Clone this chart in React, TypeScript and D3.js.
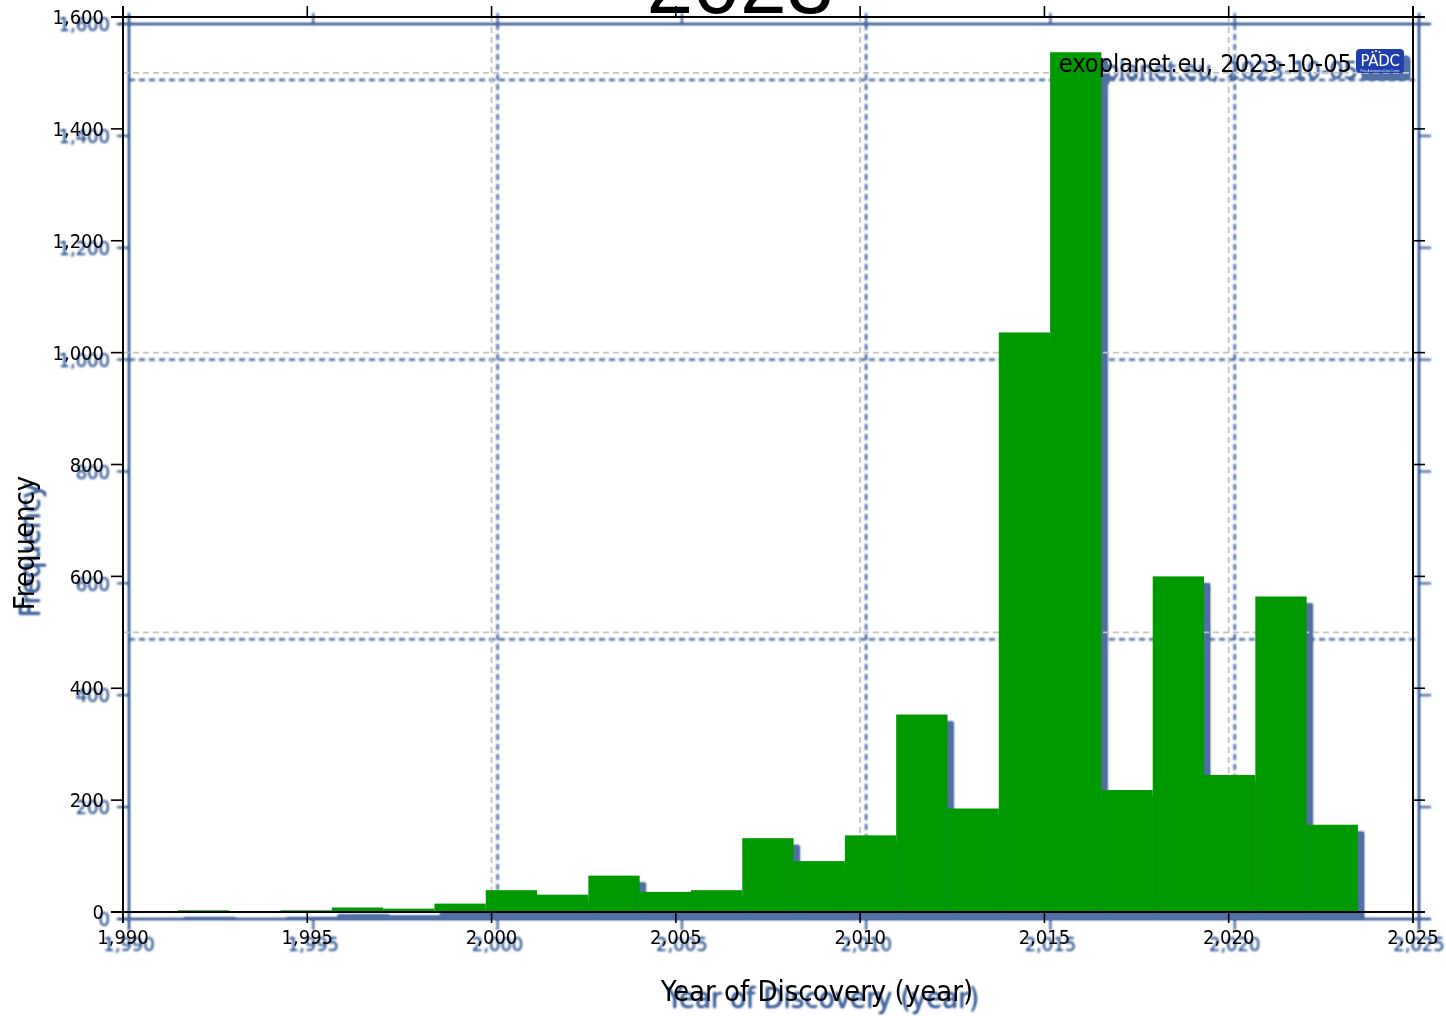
import React from "react";
import * as d3 from "d3";

// ---- data ----
const binStart = 1991.49;
const binWidth = 1.392;
const binCounts = [3, 0, 3, 8, 6, 15, 39, 31, 65, 36, 39, 132, 91, 137, 353, 185, 1036, 1537, 218, 600, 245, 564, 156];
const xTicks = [1990, 1995, 2000, 2005, 2010, 2015, 2020, 2025];
const yTicks = [0, 200, 400, 600, 800, 1000, 1200, 1400, 1600];
const xGrid = [1990, 2000, 2010, 2020];
const yGrid = [0, 500, 1000, 1500];
const titleText = "2023";
const xTitle = "Year of Discovery (year)";
const yTitle = "Frequency";
const sourceText = "exoplanet.eu, 2023-10-05";

const W = 1446;
const H = 1016;
const L = 123, R = 1413, T = 17, B = 912;

export default function App() {
  const x = d3.scaleLinear().domain([1990, 2025]).range([L, R]);
  const y = d3.scaleLinear().domain([0, 1600]).range([B, T]);
  const fmt = d3.format(",");
  const tickFont = "'DejaVu Sans Condensed', 'DejaVu Sans', sans-serif";
  const bins = binCounts.map((v, i) => ({ x0: binStart + i * binWidth, x1: binStart + (i + 1) * binWidth, v }));

  return (
    <svg width={W} height={H} style={{ position: "absolute", left: 0, top: 0, background: "#fff" }}>
      <defs>
        <filter id="shadow" x="-5%" y="-5%" width="110%" height="110%" colorInterpolationFilters="sRGB">
          <feGaussianBlur in="SourceAlpha" stdDeviation="1.1" result="b" />
          <feComponentTransfer in="b" result="ba">
            <feFuncA type="linear" slope="1.5" intercept="0" />
          </feComponentTransfer>
          <feOffset in="ba" dx="6" dy="7" result="o" />
          <feFlood floodColor="#3d619c" floodOpacity="0.9" result="c" />
          <feComposite in="c" in2="o" operator="in" result="s" />
          <feMerge>
            <feMergeNode in="s" />
            <feMergeNode in="SourceGraphic" />
          </feMerge>
        </filter>
      </defs>
      <g filter="url(#shadow)">
        {/* gridlines */}
        {yGrid.map((g) => (
          <line key={"yg" + g} x1={L} x2={R} y1={y(g)} y2={y(g)} stroke="#c4c4c4" strokeWidth={1.8} strokeDasharray="6,4" />
        ))}
        {xGrid.map((g) => (
          <line key={"xg" + g} x1={x(g)} x2={x(g)} y1={T} y2={B} stroke="#c4c4c4" strokeWidth={1.8} strokeDasharray="6,4" />
        ))}
        {/* bars */}
        {bins.filter((b) => b.v > 0).map((b, i) => (
          <rect key={"b" + i} x={x(b.x0)} y={y(b.v)} width={x(b.x1) - x(b.x0)} height={y(0) - y(b.v)} fill="#009900" />
        ))}
        {/* axes frame */}
        <line x1={L - 12} x2={R + 12} y1={B} y2={B} stroke="#000" strokeWidth={2} />
        <line x1={L - 12} x2={R + 12} y1={T} y2={T} stroke="#000" strokeWidth={2} />
        <line x1={L} x2={L} y1={T - 11} y2={B + 11} stroke="#000" strokeWidth={2} />
        <line x1={R} x2={R} y1={T - 11} y2={B + 11} stroke="#000" strokeWidth={2} />
        {yTicks.map((t) => (
          <g key={"yt" + t}>
            <line x1={L - 12} x2={L} y1={y(t)} y2={y(t)} stroke="#000" strokeWidth={1.6} />
            <line x1={R} x2={R + 12} y1={y(t)} y2={y(t)} stroke="#000" strokeWidth={1.6} />
            <text x={104} y={y(t)} dy="0.36em" textAnchor="end" fontFamily={tickFont} fontStretch="condensed" fontSize={20} fill="#000">
              {fmt(t)}
            </text>
          </g>
        ))}
        {xTicks.map((t) => (
          <g key={"xt" + t}>
            <line x1={x(t)} x2={x(t)} y1={B} y2={B + 11} stroke="#000" strokeWidth={1.6} />
            <line x1={x(t)} x2={x(t)} y1={T - 11} y2={T} stroke="#000" strokeWidth={1.6} />
            <text x={x(t)} y={944} textAnchor="middle" fontFamily={tickFont} fontStretch="condensed" fontSize={20} fill="#000">
              {fmt(t)}
            </text>
          </g>
        ))}
        {/* axis titles */}
        <text x={817} y={1001} textAnchor="middle" fontFamily={tickFont} fontStretch="condensed" fontSize={29} fill="#000">
          {xTitle}
        </text>
        <text transform="translate(34,543) rotate(-90)" textAnchor="middle" fontFamily={tickFont} fontStretch="condensed" fontSize={29} fill="#000">
          {yTitle}
        </text>
        {/* source annotation */}
        <text x={1352} y={72} textAnchor="end" fontFamily={tickFont} fontStretch="condensed" fontSize={25.2} fill="#000">
          {sourceText}
        </text>
        {/* PADC logo */}
        <g>
          <rect x={1356} y={49} width={48} height={24} rx={4} fill="#1f3fae" />
          <text x={1380} y={65.5} textAnchor="middle" fontFamily="'DejaVu Sans', sans-serif" fontSize={15} letterSpacing={-0.3} fill="#fff">
            PADC
          </text>
          <circle cx={1372.5} cy={52} r={1} fill="#fff" />
          <circle cx={1376} cy={51} r={1} fill="#fff" />
          <circle cx={1379.5} cy={52} r={1} fill="#fff" />
          <text x={1380} y={71.8} textAnchor="middle" fontFamily="'Liberation Sans', Arial, sans-serif" fontSize={2.8} fill="#dfe6ff">
            Paris Astronomical Data Centre
          </text>
        </g>
      </g>
      {/* clipped title */}
      <text x={740} y={13} textAnchor="middle" fontFamily="'Liberation Sans', Arial, sans-serif" fontSize={84} fill="#000">
        {titleText}
      </text>
    </svg>
  );
}
